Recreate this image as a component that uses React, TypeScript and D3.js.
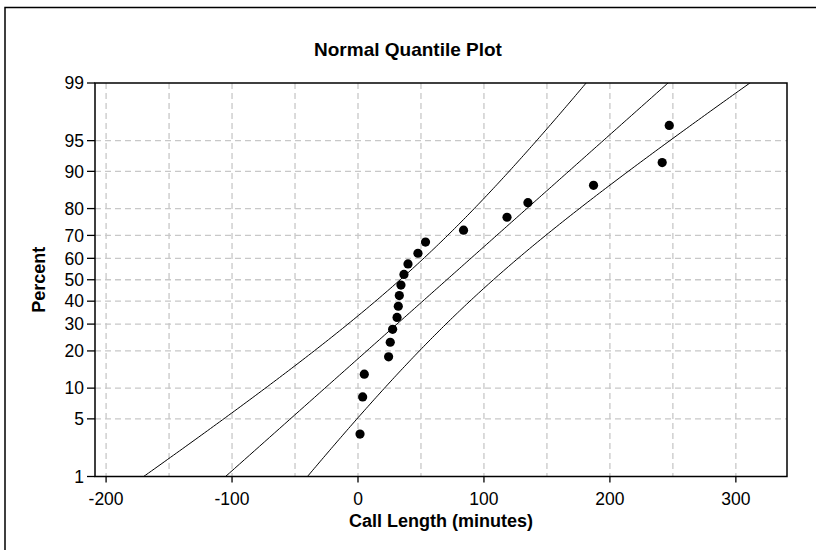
import React from "react";
import * as d3 from "d3";

// Data
const callLengths: number[] = [1.6, 3.7, 5.0, 24.3, 25.6, 27.5, 31.0, 32.0, 32.8, 34.1, 36.5, 39.7, 47.6, 53.6, 83.8, 118.3, 134.9, 187.0, 241.5, 247.1];
const percents: number[] = [3.4, 8.3, 13.2, 18.1, 23.0, 27.9, 32.8, 37.7, 42.6, 47.5, 52.5, 57.4, 62.3, 67.2, 72.1, 77.0, 81.9, 86.8, 91.7, 96.6];
const yTicks: number[] = [1, 5, 10, 20, 30, 40, 50, 60, 70, 80, 90, 95, 99];
const xTicks: number[] = [-200, -100, 0, 100, 200, 300];
const xGrid: number[] = [-200, -150, -100, -50, 0, 50, 100, 150, 200, 250, 300];
// Fitted normal and confidence band parameters
const fitMean = 70.5;
const fitSd = 75.5;
const bandVarConst = 1369;
const bandVarSlope = 528;

const W = 816;
const H = 550;
const left = 95;
const right = 787;
const top = 83;
const bottom = 476.5;

// inverse normal CDF (Acklam)
function probit(p: number): number {
  const a = [-3.969683028665376e1, 2.209460984245205e2, -2.759285104469687e2, 1.38357751867269e2, -3.066479806614716e1, 2.506628277459239];
  const b = [-5.447609879822406e1, 1.615858368580409e2, -1.556989798598866e2, 6.680131188771972e1, -1.328068155288572e1];
  const c = [-7.784894002430293e-3, -3.223964580411365e-1, -2.400758277161838, -2.549732539343734, 4.374664141464968, 2.938163982698783];
  const dd = [7.784695709041462e-3, 3.224671290700398e-1, 2.445134137142996, 3.754408661907416];
  const pl = 0.02425;
  let q, r;
  if (p < pl) {
    q = Math.sqrt(-2 * Math.log(p));
    return (((((c[0] * q + c[1]) * q + c[2]) * q + c[3]) * q + c[4]) * q + c[5]) / ((((dd[0] * q + dd[1]) * q + dd[2]) * q + dd[3]) * q + 1);
  } else if (p <= 1 - pl) {
    q = p - 0.5;
    r = q * q;
    return ((((((a[0] * r + a[1]) * r + a[2]) * r + a[3]) * r + a[4]) * r + a[5]) * q) / (((((b[0] * r + b[1]) * r + b[2]) * r + b[3]) * r + b[4]) * r + 1);
  } else {
    q = Math.sqrt(-2 * Math.log(1 - p));
    return -(((((c[0] * q + c[1]) * q + c[2]) * q + c[3]) * q + c[4]) * q + c[5]) / ((((dd[0] * q + dd[1]) * q + dd[2]) * q + dd[3]) * q + 1);
  }
}

const zMin = probit(0.01);
const zMax = probit(0.99);

const x = d3.scaleLinear().domain([-208.8, 340.6]).range([left, right]);
const yz = d3.scaleLinear().domain([zMin, zMax]).range([bottom, top]);
const yP = (pct: number) => yz(probit(pct / 100));

const zs = d3.range(0, 201).map((i) => zMin - 0.3 + ((zMax - zMin + 0.6) * i) / 200);
const line = d3
  .line<[number, number]>()
  .x((d) => x(d[0]))
  .y((d) => yz(d[1]));
const mid = zs.map((z) => [fitMean + fitSd * z, z] as [number, number]);
const hw = (z: number) => Math.sqrt(bandVarConst + bandVarSlope * z * z);
const lo = zs.map((z) => [fitMean + fitSd * z - hw(z), z] as [number, number]);
const hi = zs.map((z) => [fitMean + fitSd * z + hw(z), z] as [number, number]);

const font = "'Liberation Sans', Arial, sans-serif";

export default function App() {
  return (
    <svg width={W} height={H} style={{ position: "absolute", left: 0, top: 0, background: "#fff" }} fontFamily={font}>
      <rect x={0} y={0} width={W} height={H} fill="#fff" />
      <path d={`M5,${H + 5}V7.5H${W + 5}`} fill="none" stroke="#000" strokeWidth={1.5} />
      <text x={408} y={56} textAnchor="middle" fontSize={19} fontWeight="bold">
        Normal Quantile Plot
      </text>
      <defs>
        <clipPath id="plotclip">
          <rect x={left} y={top} width={right - left} height={bottom - top} />
        </clipPath>
      </defs>
      {/* grid */}
      <g stroke="#c8c8c8" strokeWidth={1.3} strokeDasharray="6,4">
        {xGrid.map((v) => (
          <line key={"gx" + v} x1={x(v)} x2={x(v)} y1={top} y2={bottom} />
        ))}
        {yTicks
          .filter((t) => t !== 1 && t !== 99)
          .map((t) => (
            <line key={"gy" + t} x1={left} x2={right} y1={yP(t)} y2={yP(t)} />
          ))}
      </g>
      {/* fit lines */}
      <g clipPath="url(#plotclip)" fill="none" stroke="#000" strokeWidth={1}>
        <path d={line(mid) || ""} />
        <path d={line(lo) || ""} />
        <path d={line(hi) || ""} />
      </g>
      {/* points */}
      <g fill="#000">
        {callLengths.map((v, i) => (
          <circle key={i} cx={x(v)} cy={yP(percents[i])} r={4.6} />
        ))}
      </g>
      {/* frame */}
      <rect x={left} y={top} width={right - left} height={bottom - top} fill="none" stroke="#000" strokeWidth={1.5} />
      {/* y axis */}
      <g fontSize={17.5} textAnchor="end">
        {yTicks.map((t) => (
          <g key={"yt" + t}>
            <line x1={left - 8} x2={left} y1={yP(t)} y2={yP(t)} stroke="#000" strokeWidth={1.3} />
            <text x={left - 11} y={yP(t)} dy="0.36em">
              {t}
            </text>
          </g>
        ))}
      </g>
      {/* x axis */}
      <g fontSize={17.5} textAnchor="middle">
        {xTicks.map((t) => (
          <g key={"xt" + t}>
            <line x1={x(t)} x2={x(t)} y1={bottom} y2={bottom + 6} stroke="#000" strokeWidth={1.3} />
            <text x={x(t)} y={bottom + 28}>
              {t}
            </text>
          </g>
        ))}
      </g>
      <text x={(left + right) / 2} y={527} textAnchor="middle" fontSize={18} fontWeight="bold">
        Call Length (minutes)
      </text>
      <text transform={`translate(45,${(top + bottom) / 2}) rotate(-90)`} textAnchor="middle" fontSize={18} fontWeight="bold">
        Percent
      </text>
    </svg>
  );
}
